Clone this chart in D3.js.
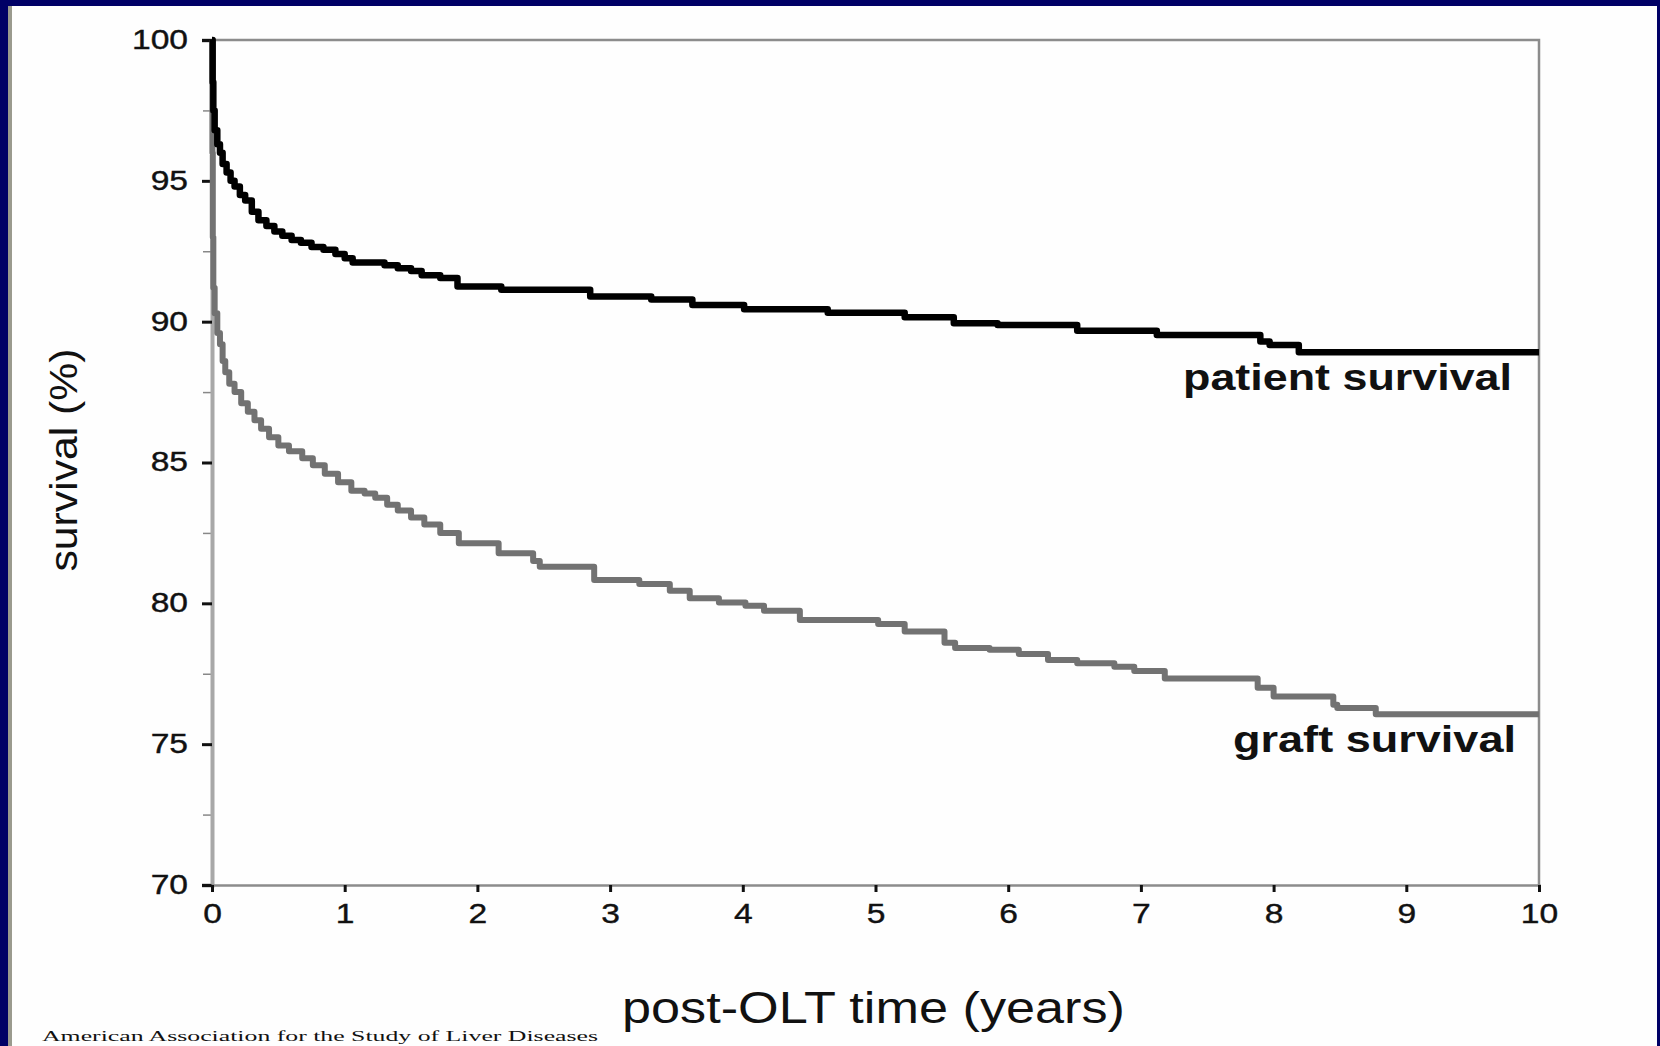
<!DOCTYPE html>
<html>
<head>
<meta charset="utf-8">
<script src="https://cdn.jsdelivr.net/npm/d3@7"></script>
<style>
  html, body { margin: 0; padding: 0; background: #000066; overflow: hidden; }
  svg { display: block; }
</style>
</head>
<body>
<svg id="chart"></svg>
<script>
// axis ticks
const yearTicks = [0, 1, 2, 3, 4, 5, 6, 7, 8, 9, 10];
const survivalTicks = [70, 75, 80, 85, 90, 95, 100];
const survivalMinorTicks = [72.5, 77.5, 82.5, 87.5, 92.5, 97.5];

// patient survival (Kaplan-Meier, value holds from each time onward)
const patientTime = [0, 0.005, 0.01, 0.02, 0.04, 0.06, 0.08, 0.11, 0.14, 0.17, 0.21, 0.25, 0.30, 0.35, 0.41, 0.47,
  0.53, 0.60, 0.67, 0.75, 0.84, 0.93, 1.00, 1.06, 1.30, 1.40, 1.50, 1.58, 1.72, 1.85, 2.18, 2.85, 3.31, 3.62,
  4.01, 4.64, 5.22, 5.59, 5.92, 6.52, 7.12, 7.90, 7.97, 8.19, 10];
const patientSurv = [100, 98.5, 97.5, 96.8, 96.3, 96.0, 95.6, 95.3, 95.0, 94.8, 94.5, 94.3, 93.9, 93.6, 93.4, 93.2,
  93.05, 92.9, 92.8, 92.65, 92.55, 92.4, 92.25, 92.1, 92.0, 91.9, 91.8, 91.65, 91.55, 91.25, 91.13, 90.89, 90.79, 90.59,
  90.44, 90.32, 90.16, 89.94, 89.88, 89.68, 89.53, 89.3, 89.17, 88.91, 88.91];

// graft survival
const graftTime = [0, 0.003, 0.006, 0.01, 0.02, 0.04, 0.06, 0.08, 0.10, 0.13, 0.17, 0.22, 0.27, 0.32, 0.37, 0.43,
  0.50, 0.58, 0.68, 0.76, 0.85, 0.95, 1.05, 1.15, 1.23, 1.32, 1.40, 1.50, 1.60, 1.72, 1.86, 2.16, 2.42, 2.47,
  2.88, 3.22, 3.45, 3.60, 3.82, 4.02, 4.16, 4.43, 5.02, 5.22, 5.52, 5.60, 5.86, 6.08, 6.30, 6.52, 6.80, 6.95,
  7.18, 7.88, 8.00, 8.45, 8.48, 8.77, 10];
const graftSurv = [100, 96, 93, 91.2, 90.3, 89.6, 89.2, 88.6, 88.2, 87.8, 87.5, 87.1, 86.8, 86.5, 86.2, 85.9,
  85.6, 85.4, 85.15, 84.9, 84.6, 84.3, 84.0, 83.9, 83.75, 83.5, 83.3, 83.05, 82.8, 82.5, 82.13, 81.78, 81.5, 81.3,
  80.83, 80.69, 80.45, 80.18, 80.03, 79.91, 79.74, 79.41, 79.27, 79.0, 78.6, 78.41, 78.35, 78.2, 77.99, 77.87, 77.75, 77.6,
  77.33, 77.0, 76.69, 76.4, 76.28, 76.06, 76.06];

const width = 1660, height = 1046;
const sx = 1.2; // the original slide is stretched sideways

const svg = d3.select("#chart").attr("width", width).attr("height", height);

// slide frame
svg.append("rect").attr("x", 0).attr("y", 0).attr("width", width).attr("height", height).attr("fill", "#000066");
svg.append("rect").attr("x", 8).attr("y", 6).attr("width", 1649).attr("height", height).attr("fill", "#9a9a8e");
svg.append("rect").attr("x", 12).attr("y", 6).attr("width", 1645).attr("height", height).attr("fill", "#fefefe");

const x = d3.scaleLinear().domain([0, 10]).range([212, 1539]);
const y = d3.scaleLinear().domain([70, 100]).range([885, 40]);

// plot frame (top and right)
svg.append("path")
  .attr("d", `M${x(0)},${y(100)}H${x(10)}V${y(70)}`)
  .attr("fill", "none")
  .attr("stroke", "#8c8c8c")
  .attr("stroke-width", 2.5);

// minor y ticks
svg.append("g")
  .attr("transform", `translate(${x(0)},0)`)
  .call(d3.axisLeft(y).tickValues(survivalMinorTicks).tickSize(9).tickFormat(""))
  .call(g => g.select(".domain").remove())
  .call(g => g.selectAll("line").attr("stroke", "#888").attr("stroke-width", 1.5));

// y axis
const yAxis = svg.append("g")
  .attr("transform", `translate(${x(0)},0)`)
  .call(d3.axisLeft(y).tickValues(survivalTicks).tickSize(10).tickPadding(0));
yAxis.select(".domain").attr("stroke", "#a8a8a8").attr("stroke-width", 4);
yAxis.selectAll(".tick line").attr("stroke", "#111").attr("stroke-width", 3);
yAxis.selectAll(".tick text")
  .attr("x", -24 / sx)
  .attr("dy", "0.3em")
  .attr("transform", `scale(${sx},1)`)
  .attr("fill", "#111")
  .attr("stroke", "#111").attr("stroke-width", 0.4)
  .style("font", "28px 'Liberation Sans', Arial, sans-serif");

// x axis
const xAxis = svg.append("g")
  .attr("transform", `translate(0,${y(70)})`)
  .call(d3.axisBottom(x).tickValues(yearTicks).tickSize(7).tickPadding(11));
xAxis.select(".domain").attr("stroke", "#8c8c8c").attr("stroke-width", 2.5);
xAxis.selectAll(".tick line").attr("stroke", "#111").attr("stroke-width", 3);
xAxis.selectAll(".tick text")
  .attr("transform", `scale(${sx},1)`)
  .attr("fill", "#111")
  .attr("stroke", "#111").attr("stroke-width", 0.4)
  .style("font", "28px 'Liberation Sans', Arial, sans-serif");

// survival curves
const line = d3.line()
  .x(d => x(d[0]))
  .y(d => y(d[1]))
  .curve(d3.curveStepAfter);

svg.append("path")
  .datum(d3.zip(graftTime, graftSurv))
  .attr("fill", "none")
  .attr("stroke", "#727272")
  .attr("stroke-width", 6)
  .attr("stroke-linejoin", "round")
  .attr("d", line);

svg.append("path")
  .datum(d3.zip(patientTime, patientSurv))
  .attr("fill", "none")
  .attr("stroke", "#000")
  .attr("stroke-width", 6.5)
  .attr("stroke-linejoin", "round")
  .attr("d", line);

// curve labels
svg.append("text")
  .attr("x", 1512).attr("y", 390)
  .attr("text-anchor", "end")
  .attr("textLength", 329).attr("lengthAdjust", "spacingAndGlyphs")
  .style("font", "bold 36px 'Liberation Sans', Arial, sans-serif")
  .attr("fill", "#111")
  .text("patient survival");

svg.append("text")
  .attr("x", 1516).attr("y", 752)
  .attr("text-anchor", "end")
  .attr("textLength", 283).attr("lengthAdjust", "spacingAndGlyphs")
  .style("font", "bold 36px 'Liberation Sans', Arial, sans-serif")
  .attr("fill", "#111")
  .text("graft survival");

// axis titles
svg.append("text")
  .attr("transform", "translate(77,460) rotate(-90)")
  .attr("text-anchor", "middle")
  .attr("textLength", 223).attr("lengthAdjust", "spacingAndGlyphs")
  .style("font", "39px 'Liberation Sans', Arial, sans-serif")
  .attr("fill", "#111")
  .text("survival (%)");

svg.append("text")
  .attr("x", 622).attr("y", 1023)
  .attr("textLength", 503).attr("lengthAdjust", "spacingAndGlyphs")
  .style("font", "44px 'Liberation Sans', Arial, sans-serif")
  .attr("fill", "#111")
  .text("post-OLT time (years)");

// source note at the slide's bottom edge
svg.append("text")
  .attr("x", 42).attr("y", 1041)
  .attr("textLength", 556).attr("lengthAdjust", "spacingAndGlyphs")
  .style("font", "15px 'Liberation Serif', 'Times New Roman', serif")
  .attr("fill", "#111")
  .text("American Association for the Study of Liver Diseases");
</script>
</body>
</html>
